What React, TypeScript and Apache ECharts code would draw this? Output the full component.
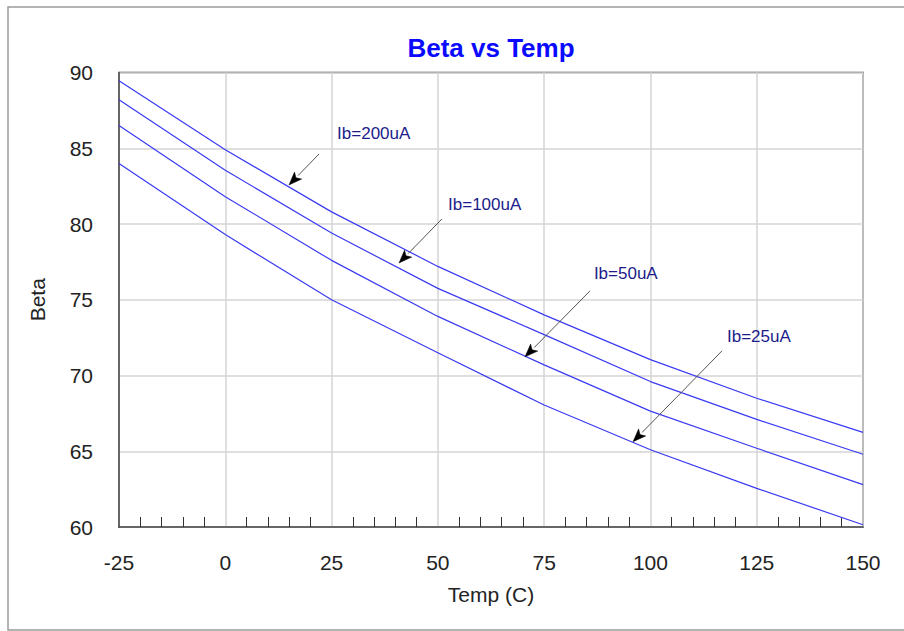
import React, { useEffect, useRef } from "react";
import * as echarts from "echarts";

const temps = [-25, 0, 25, 50, 75, 100, 125, 150];
const ib200 = [89.45, 84.9, 80.8, 77.2, 74.0, 71.05, 68.5, 66.25];
const ib100 = [88.2, 83.55, 79.4, 75.75, 72.7, 69.6, 67.1, 64.8];
const ib50 = [86.5, 81.8, 77.6, 73.9, 70.7, 67.65, 65.2, 62.8];
const ib25 = [84.0, 79.3, 75.0, 71.5, 68.05, 65.1, 62.55, 60.15];

const seriesNames = ["Ib=200uA", "Ib=100uA", "Ib=50uA", "Ib=25uA"];
const seriesValues = [ib200, ib100, ib50, ib25];

// annotation: label anchor, arrow tail, arrow head (data coords)
const labelPos = [
  [26.3, 86.0],
  [52.4, 81.26],
  [86.7, 76.7],
  [118.0, 72.55],
];
const arrowTail = [
  [22.05, 84.62],
  [50.98, 80.34],
  [85.8, 75.59],
  [116.85, 71.63],
];
const arrowHead = [
  [14.99, 82.58],
  [40.87, 77.43],
  [70.51, 71.23],
  [95.91, 65.63],
];

const FONT = "'Liberation Sans', Arial, Helvetica, sans-serif";

export default function App() {
  const ref = useRef<HTMLDivElement>(null);
  useEffect(() => {
    if (!ref.current) return;
    const chart = echarts.init(ref.current, null, { renderer: "svg" });
    chart.setOption({
      animation: false,
      backgroundColor: "#ffffff",
      textStyle: { fontFamily: FONT },
      grid: {
        left: 119,
        top: 72.5,
        right: 41,
        bottom: 104,
        show: true,
        borderColor: "#4a4a4a",
        borderWidth: 1.5,
        backgroundColor: "transparent",
      },
      xAxis: {
        type: "value",
        min: -25,
        max: 150,
        interval: 25,
        name: "Temp (C)",
        nameLocation: "middle",
        nameGap: 57,
        nameTextStyle: { fontSize: 21, color: "#222", fontFamily: FONT },
        axisLine: { show: true, onZero: false, lineStyle: { color: "#4a4a4a", width: 1.5 } },
        axisTick: { show: false, inside: true },
        minorTick: { show: true, splitNumber: 5, length: 10, lineStyle: { color: "#333", width: 1 } },
        axisLabel: { fontSize: 21, color: "#222", margin: 25, fontFamily: FONT },
        splitLine: { show: true, lineStyle: { color: "#d4d4d4", width: 1.5 } },
        minorSplitLine: { show: false },
      },
      yAxis: {
        type: "value",
        min: 60,
        max: 90,
        interval: 5,
        name: "Beta",
        nameLocation: "middle",
        nameGap: 71,
        nameTextStyle: { fontSize: 21, color: "#222", fontFamily: FONT },
        axisLine: { show: true, onZero: false, lineStyle: { color: "#4a4a4a", width: 1.5 } },
        axisTick: { show: false },
        axisLabel: { fontSize: 21, color: "#222", margin: 26, fontFamily: FONT },
        splitLine: { show: true, lineStyle: { color: "#d4d4d4", width: 1.5 } },
      },
      series: seriesValues.map((vals, i) => ({
        type: "line",
        name: seriesNames[i],
        data: temps.map((t, j) => [t, vals[j]]),
        showSymbol: false,
        symbol: "none",
        smooth: false,
        lineStyle: { color: "#3a3af2", width: 1.2 },
        z: 3,
      })),
    });

    const graphics: any[] = [];
    graphics.push({
      type: "rect",
      shape: { x: 8, y: 7, width: 940, height: 623 },
      style: { fill: "none", stroke: "#9a9a9a", lineWidth: 1.5 },
      silent: true,
      z: 0,
    });
    graphics.push({
      type: "text",
      x: 491,
      y: 48,
      style: {
        text: "Beta vs Temp",
        fontSize: 26,
        fontWeight: "bold",
        fontFamily: FONT,
        fill: "#0a0aff",
        textAlign: "center",
        textVerticalAlign: "middle",
      },
      z: 10,
    });
    for (let i = 0; i < seriesNames.length; i++) {
      const lp = chart.convertToPixel({ gridIndex: 0 }, labelPos[i]) as number[];
      const tp = chart.convertToPixel({ gridIndex: 0 }, arrowTail[i]) as number[];
      const hp = chart.convertToPixel({ gridIndex: 0 }, arrowHead[i]) as number[];
      const dx = hp[0] - tp[0];
      const dy = hp[1] - tp[1];
      const len = Math.sqrt(dx * dx + dy * dy);
      const ux = dx / len;
      const uy = dy / len;
      const aL = 13;
      const aW = 5;
      const bx = hp[0] - ux * aL;
      const by = hp[1] - uy * aL;
      graphics.push({
        type: "line",
        shape: { x1: tp[0], y1: tp[1], x2: bx, y2: by },
        style: { stroke: "#555", lineWidth: 1 },
        z: 10,
      });
      graphics.push({
        type: "polygon",
        shape: {
          points: [
            [hp[0], hp[1]],
            [bx - uy * aW, by + ux * aW],
            [bx + ux * 3, by + uy * 3],
            [bx + uy * aW, by - ux * aW],
          ],
        },
        style: { fill: "#000", stroke: "#000", lineWidth: 0.5 },
        z: 10,
      });
      graphics.push({
        type: "text",
        x: lp[0],
        y: lp[1],
        style: {
          text: seriesNames[i],
          fontSize: 17,
          fontFamily: FONT,
          fill: "#1c1c8a",
          textAlign: "left",
          textVerticalAlign: "middle",
        },
        z: 10,
      });
    }
    chart.setOption({ graphic: graphics });

    return () => chart.dispose();
  }, []);
  return (
    <div
      ref={ref}
      style={{ position: "fixed", left: 0, top: 0, width: 904, height: 631 }}
    />
  );
}
